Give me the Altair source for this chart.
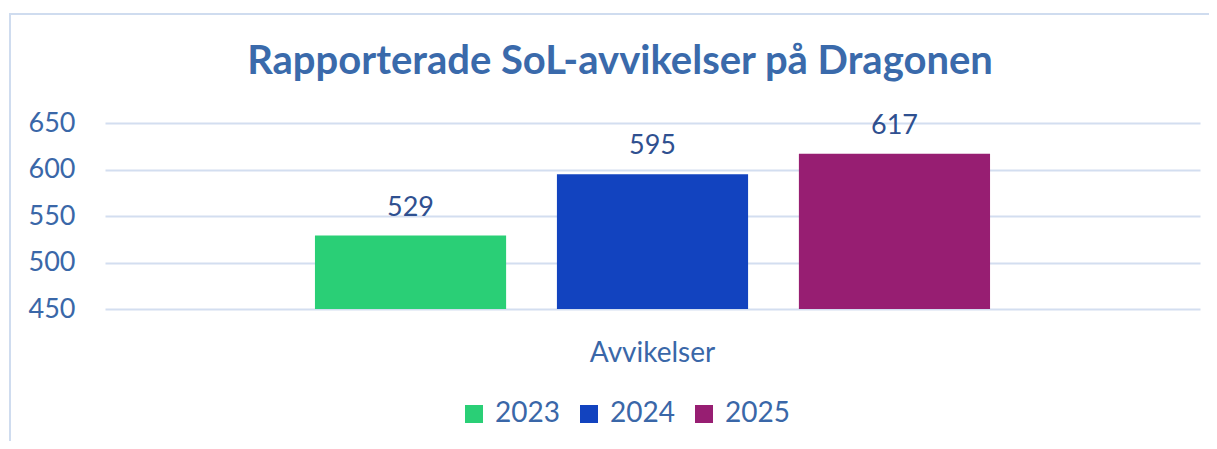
import altair as alt
import pandas as pd

years = ["2023", "2024", "2025"]
values = [529, 595, 617]
category = ["Avvikelser", "Avvikelser", "Avvikelser"]
colors = ["#2ACF76", "#1243BF", "#971E72"]
y_ticks = [450, 500, 550, 600, 650]
title_text = ["Rapporterade SoL-avvikelser på Dragonen"]

df = pd.DataFrame({"cat": category, "year": years, "value": values})

FONT = "Lato"
AXIS_COLOR = "#3A67A8"
TITLE_COLOR = "#3A6AAB"
LABEL_COLOR = "#2F5090"
GRID = "#D3DEF0"

x = alt.X("cat:N", title=None,
          scale=alt.Scale(paddingInner=0, paddingOuter=0.311),
          axis=alt.Axis(domain=False, ticks=False, labelAngle=0, labelFontSize=28,
                        labelColor=AXIS_COLOR, labelFont=FONT, labelPadding=30))
xo = alt.XOffset("year:N", scale=alt.Scale(paddingInner=0.21, paddingOuter=0))
y = alt.Y("value:Q", title=None,
          scale=alt.Scale(domain=[450, 650], zero=False, nice=False),
          axis=alt.Axis(values=y_ticks, domain=False, ticks=False, grid=True,
                        gridColor=GRID, gridWidth=2, labelFontSize=27,
                        labelColor=AXIS_COLOR, labelFont=FONT, labelPadding=30))

bars = alt.Chart(df).mark_bar().encode(
    x=x, xOffset=xo, y=y, y2=alt.datum(450),
    color=alt.Color("year:N", scale=alt.Scale(domain=years, range=colors),
                    legend=alt.Legend(title=None, orient="none", direction="horizontal",
                                      legendX=355, legendY=277,
                                      symbolType="square", symbolSize=324,
                                      symbolStrokeWidth=0, labelFontSize=28,
                                      labelFont=FONT, labelColor=AXIS_COLOR,
                                      labelOffset=7, columnPadding=15))
)

labels = alt.Chart(df).mark_text(fontSize=27, font=FONT, color=LABEL_COLOR,
                                 baseline="alphabetic", dy=-20).encode(
    x=x, xOffset=xo, y=y, text=alt.Text("value:Q")
)

title = alt.Chart(pd.DataFrame({"t": title_text})).mark_text(
    fontSize=40, font=FONT, fontWeight="bold", color=TITLE_COLOR,
    align="center", baseline="middle"
).encode(x=alt.value(515), y=alt.value(-61), text="t:N")

frame = alt.Chart(pd.DataFrame({"f": [0]})).mark_rect(
    filled=False, stroke="#CFDCEF", strokeWidth=2
).encode(x=alt.value(-95), x2=alt.value(1140), y=alt.value(-109), y2=alt.value(360))

chart = alt.layer(frame, bars, labels, title).properties(
    width=1095, height=186,
    padding={"left": 97, "top": 115, "right": 9, "bottom": 132},
    autosize=alt.AutoSizeParams(type="none"),
).configure_view(stroke=None)

chart.save("out.html", embed_options={"renderer": "svg", "actions": False})
